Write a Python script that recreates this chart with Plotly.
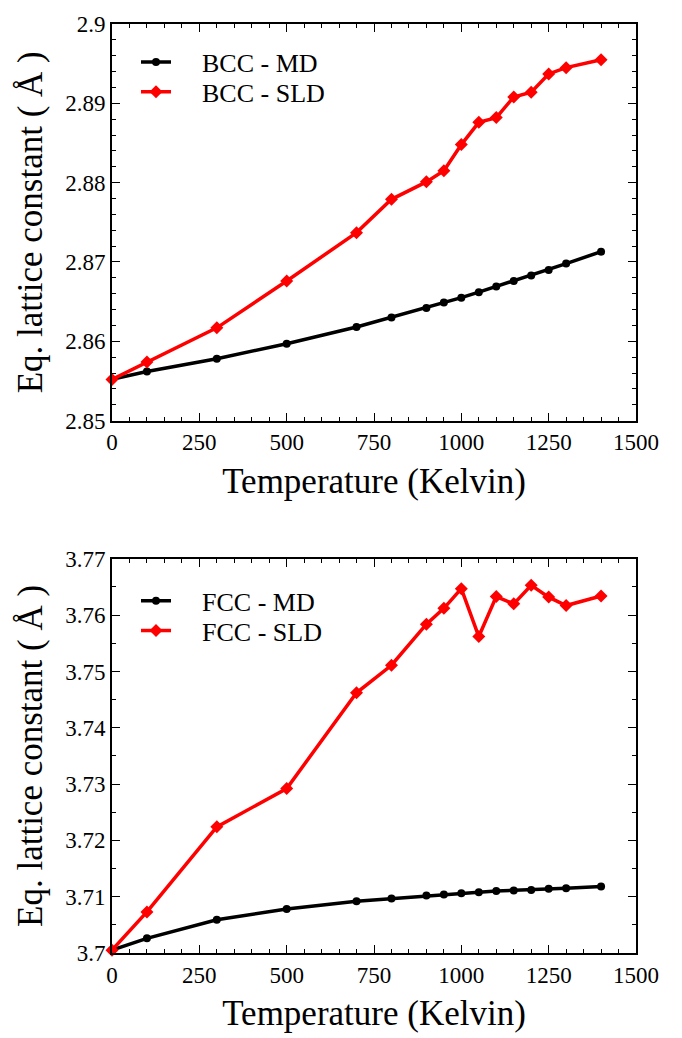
import plotly.graph_objects as go

# Temperatures (K)
temps = [0, 100, 300, 500, 700, 800, 900, 950, 1000, 1050, 1100, 1150, 1200, 1250, 1300, 1400]

# BCC equilibrium lattice constants (Å)
bcc_md = [2.8552, 2.8562, 2.8578, 2.8597, 2.8618, 2.8630, 2.8642, 2.8649, 2.8655,
          2.8662, 2.8669, 2.8676, 2.8683, 2.8690, 2.8698, 2.8713]
bcc_sld = [2.8552, 2.8574, 2.8617, 2.8676, 2.8737, 2.8779, 2.8801, 2.8815, 2.8848,
           2.8876, 2.8882, 2.8908, 2.8914, 2.8937, 2.8945, 2.8955]

# FCC equilibrium lattice constants (Å)
fcc_md = [3.7005, 3.7026, 3.7059, 3.7078, 3.7092, 3.7097, 3.7102, 3.7104, 3.7106,
          3.7108, 3.7110, 3.7111, 3.7112, 3.7114, 3.7115, 3.7118]
fcc_sld = [3.7005, 3.7073, 3.7224, 3.7292, 3.7462, 3.7511, 3.7584, 3.7612, 3.7647,
           3.7562, 3.7633, 3.7620, 3.7653, 3.7632, 3.7617, 3.7634]

x_ticks = [0, 250, 500, 750, 1000, 1250, 1500]
bcc_ticks = [2.85, 2.86, 2.87, 2.88, 2.89, 2.90]
bcc_tick_text = ["2.85", "2.86", "2.87", "2.88", "2.89", "2.9"]
fcc_ticks = [3.70, 3.71, 3.72, 3.73, 3.74, 3.75, 3.76, 3.77]
fcc_tick_text = ["3.7", "3.71", "3.72", "3.73", "3.74", "3.75", "3.76", "3.77"]

FONT = "Liberation Serif, Times New Roman, serif"
BLACK = "#000000"
RED = "#ff0000"
PAD = "\u00a0" * 4  # gap between legend swatch and label

fig = go.Figure()


def add_series(y, name, color, symbol, msize, xa, ya, legend):
    fig.add_trace(go.Scatter(
        x=temps, y=y, name=PAD + name, mode="lines+markers",
        line=dict(color=color, width=3.5),
        marker=dict(symbol=symbol, size=msize, color=color),
        xaxis=xa, yaxis=ya, legend=legend, cliponaxis=False,
    ))


add_series(bcc_md, "BCC - MD", BLACK, "circle", 8, "x", "y", "legend")
add_series(bcc_sld, "BCC - SLD", RED, "diamond", 10, "x", "y", "legend2")
add_series(fcc_md, "FCC - MD", BLACK, "circle", 8, "x2", "y2", "legend3")
add_series(fcc_sld, "FCC - SLD", RED, "diamond", 10, "x2", "y2", "legend4")

axis_common = dict(
    showline=True, linecolor=BLACK, linewidth=2, mirror="ticks",
    ticks="inside", ticklen=8, tickwidth=1.3, tickcolor=BLACK,
    showgrid=False, zeroline=False,
    tickfont=dict(family=FONT, size=23, color=BLACK),
)

x_common = dict(
    axis_common, range=[0, 1500], tickvals=x_ticks,
    minor=dict(ticks="inside", ticklen=4, tickwidth=1, tickcolor=BLACK, dtick=50, tick0=0),
    title=dict(text="Temperature (Kelvin)", font=dict(family=FONT, size=35, color=BLACK), standoff=14),
)

ytitle = dict(text="Eq. lattice constant ( Å )", font=dict(family=FONT, size=35, color=BLACK), standoff=12)

# Paper-space helpers: plot area spans pixels 17.5..955.5 vertically, 112..636 horizontally
TOP, BOT = 17.5, 955.5
def py(pix):
    return (BOT - pix) / (BOT - TOP)

LEG_X = (136 - 112) / 524.0
leg_font = dict(family=FONT, size=26, color=BLACK)

def legend_at(pix_y):
    return dict(x=LEG_X, y=py(pix_y), xanchor="left", yanchor="middle",
                bgcolor="rgba(0,0,0,0)", font=leg_font, itemwidth=30,
                borderwidth=0)

fig.update_layout(
    width=682, height=1038,
    margin=dict(l=112, r=46, t=17.5, b=82.5),
    paper_bgcolor="white", plot_bgcolor="white",
    xaxis=dict(x_common, domain=[0, 1], anchor="y"),
    yaxis=dict(axis_common, domain=[py(418), 1], anchor="x", range=[2.85, 2.90],
               tickvals=bcc_ticks, ticktext=bcc_tick_text,
               minor=dict(ticks="inside", ticklen=4, tickwidth=1, tickcolor=BLACK, dtick=0.002, tick0=2.85),
               title=ytitle),
    xaxis2=dict(x_common, domain=[0, 1], anchor="y2"),
    yaxis2=dict(axis_common, domain=[0, py(557.5)], anchor="x2", range=[3.70, 3.77],
                tickvals=fcc_ticks, ticktext=fcc_tick_text,
                minor=dict(ticks="inside", ticklen=4, tickwidth=1, tickcolor=BLACK, dtick=0.005, tick0=3.70),
                title=ytitle),
    legend=legend_at(56),
    legend2=legend_at(86),
    legend3=legend_at(600),
    legend4=legend_at(630),
    showlegend=True,
)

fig.write_html("out.html")
